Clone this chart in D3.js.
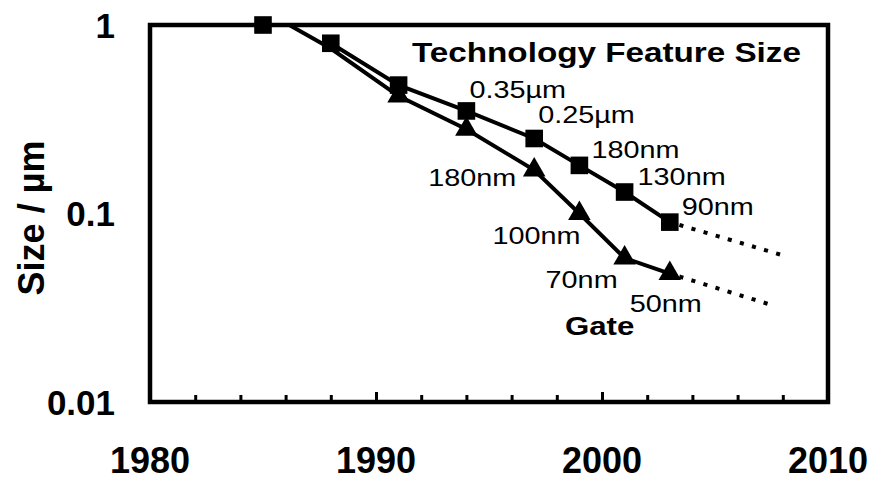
<!DOCTYPE html>
<html>
<head>
<meta charset="utf-8">
<script src="https://cdn.jsdelivr.net/npm/d3@7"></script>
<style>
  body { margin: 0; background: #fff; }
  text { font-family: "Liberation Sans", Arial, sans-serif; fill: #000; }
</style>
</head>
<body>
<div class="main"></div>
<script>
// Data
let featureYears = [1985, 1988, 1991, 1994, 1997, 1999, 2001, 2003];
let featureSize  = [1.0, 0.8, 0.48, 0.35, 0.25, 0.18, 0.13, 0.09];
let featureLabels = ["", "", "", "0.35\u00b5m", "0.25\u00b5m", "180nm", "130nm", "90nm"];

let gateYears = [1985, 1988, 1991, 1994, 1997, 1999, 2001, 2003];
let gateSize  = [1.2, 0.75, 0.42, 0.28, 0.17, 0.1, 0.058, 0.048];
let gateLabels = ["", "", "", "", "180nm", "100nm", "70nm", "50nm"];

// projected (dotted) part
let featureTrendYears = [2003, 2008.3];
let featureTrendSize  = [0.09, 0.0586];
let gateTrendYears = [2003, 2007.4];
let gateTrendSize  = [0.048, 0.033];

let yTicks = [1, 0.1, 0.01];
let yTickLabels = ["1", "0.1", "0.01"];
let xTickYears = d3.range(1980, 2011, 2);
let xLabelYears = [1980, 1990, 2000, 2010];

let width = 872, height = 480;
let svg = d3.select("div.main").append("svg")
    .attr("width", width)
    .attr("height", height);

let x = d3.scaleLinear().domain([1980, 2010]).range([150, 828]);
let y = d3.scaleLog().domain([0.01, 1]).range([402, 25]);

// clip for the lines
svg.append("clipPath").attr("id", "plot")
  .append("rect")
    .attr("x", x(1980)).attr("y", y(1))
    .attr("width", x(2010) - x(1980)).attr("height", y(0.01) - y(1));

// small inward ticks on the bottom
let xAxis = svg.append("g")
    .attr("transform", "translate(0," + y(0.01) + ")")
    .call(d3.axisBottom(x).tickValues(xTickYears).tickFormat("").tickSizeOuter(0)
        .tickSize(-7));
xAxis.select(".domain").remove();
xAxis.selectAll(".tick line")
    .attr("stroke", "#000")
    .attr("stroke-width", 3)
    .attr("y2", d => (d % 10 == 0) ? -10 : -7);

// frame
svg.append("rect")
    .attr("x", x(1980)).attr("y", y(1))
    .attr("width", x(2010) - x(1980)).attr("height", y(0.01) - y(1))
    .attr("fill", "none")
    .attr("stroke", "#000")
    .attr("stroke-width", 4.5);

// y tick labels
svg.selectAll("text.ylab").data(yTicks).enter().append("text")
    .attr("class", "ylab")
    .attr("x", 115)
    .attr("y", d => y(d))
    .attr("dy", "0.36em")
    .attr("text-anchor", "end")
    .attr("font-size", 35)
    .attr("font-weight", "bold")
    .text((d, i) => yTickLabels[i]);

// x labels
svg.selectAll("text.xlab").data(xLabelYears).enter().append("text")
    .attr("class", "xlab")
    .attr("x", d => x(d))
    .attr("y", 473)
    .attr("text-anchor", "middle")
    .attr("font-size", 36)
    .attr("font-weight", "bold")
    .text(d => d);

// y axis title
svg.append("text")
    .attr("transform", "translate(44,218) rotate(-90)")
    .attr("text-anchor", "middle")
    .attr("font-size", 36)
    .attr("font-weight", "bold")
    .text("Size / \u00b5m");

function pts(years, vals) {
    return years.map((yr, i) => ({ year: yr, v: vals[i] }));
}
let feature = pts(featureYears, featureSize);
let gate = pts(gateYears, gateSize);

let line = d3.line().x(d => x(d.year)).y(d => y(d.v));
let lines = svg.append("g").attr("clip-path", "url(#plot)");

// the 1985 square is not joined to the rest in the original
lines.append("path").datum(feature.slice(1))
    .attr("d", line).attr("fill", "none")
    .attr("stroke", "#000").attr("stroke-width", 4);
lines.append("path").datum(gate)
    .attr("d", line).attr("fill", "none")
    .attr("stroke", "#000").attr("stroke-width", 4);

[pts(featureTrendYears, featureTrendSize), pts(gateTrendYears, gateTrendSize)].forEach(function(t) {
    lines.append("path").datum(t)
        .attr("d", line).attr("fill", "none")
        .attr("stroke", "#000").attr("stroke-width", 4)
        .attr("stroke-dasharray", "0.1 12.5")
        .attr("stroke-dashoffset", -12)
        .attr("stroke-linecap", "square");
});

// markers
let sq = d3.symbol().type(d3.symbolSquare).size(310);
let tri = d3.symbol().type(d3.symbolTriangle).size(220);

svg.selectAll("path.sq").data(feature).enter().append("path")
    .attr("class", "sq")
    .attr("d", sq)
    .attr("transform", d => "translate(" + x(d.year) + "," + y(d.v) + ")");
svg.selectAll("path.tri").data(gate.filter(d => d.v <= 1 && d.year > 1988)).enter().append("path")
    .attr("class", "tri")
    .attr("d", tri)
    .attr("transform", d => "translate(" + x(d.year) + "," + y(d.v) + ")");

// point labels
function label(txt, px, py, bold, size) {
    svg.append("text")
        .attr("transform", "translate(" + px + "," + py + ") scale(1.2,1)")
        .attr("font-size", size)
        .attr("font-weight", bold ? "bold" : "normal")
        .text(txt);
}
// offsets of each label from its point
let featureOff = [null, null, null, [3, -13], [4, -15], [12, -7], [13, -7], [12, -7]];
let gateOff = [null, null, null, null, [-106, 16], [-87, 30], [-79, 30], [-40, 38]];
feature.forEach(function(d, i) {
    if (featureLabels[i]) label(featureLabels[i], x(d.year) + featureOff[i][0], y(d.v) + featureOff[i][1], false, 24);
});
gate.forEach(function(d, i) {
    if (gateLabels[i]) label(gateLabels[i], x(d.year) + gateOff[i][0], y(d.v) + gateOff[i][1], false, 24);
});

label("Technology Feature Size", 412, 62, true, 27.7);
label("Gate", 565, 335, true, 26);
</script>
</body>
</html>
